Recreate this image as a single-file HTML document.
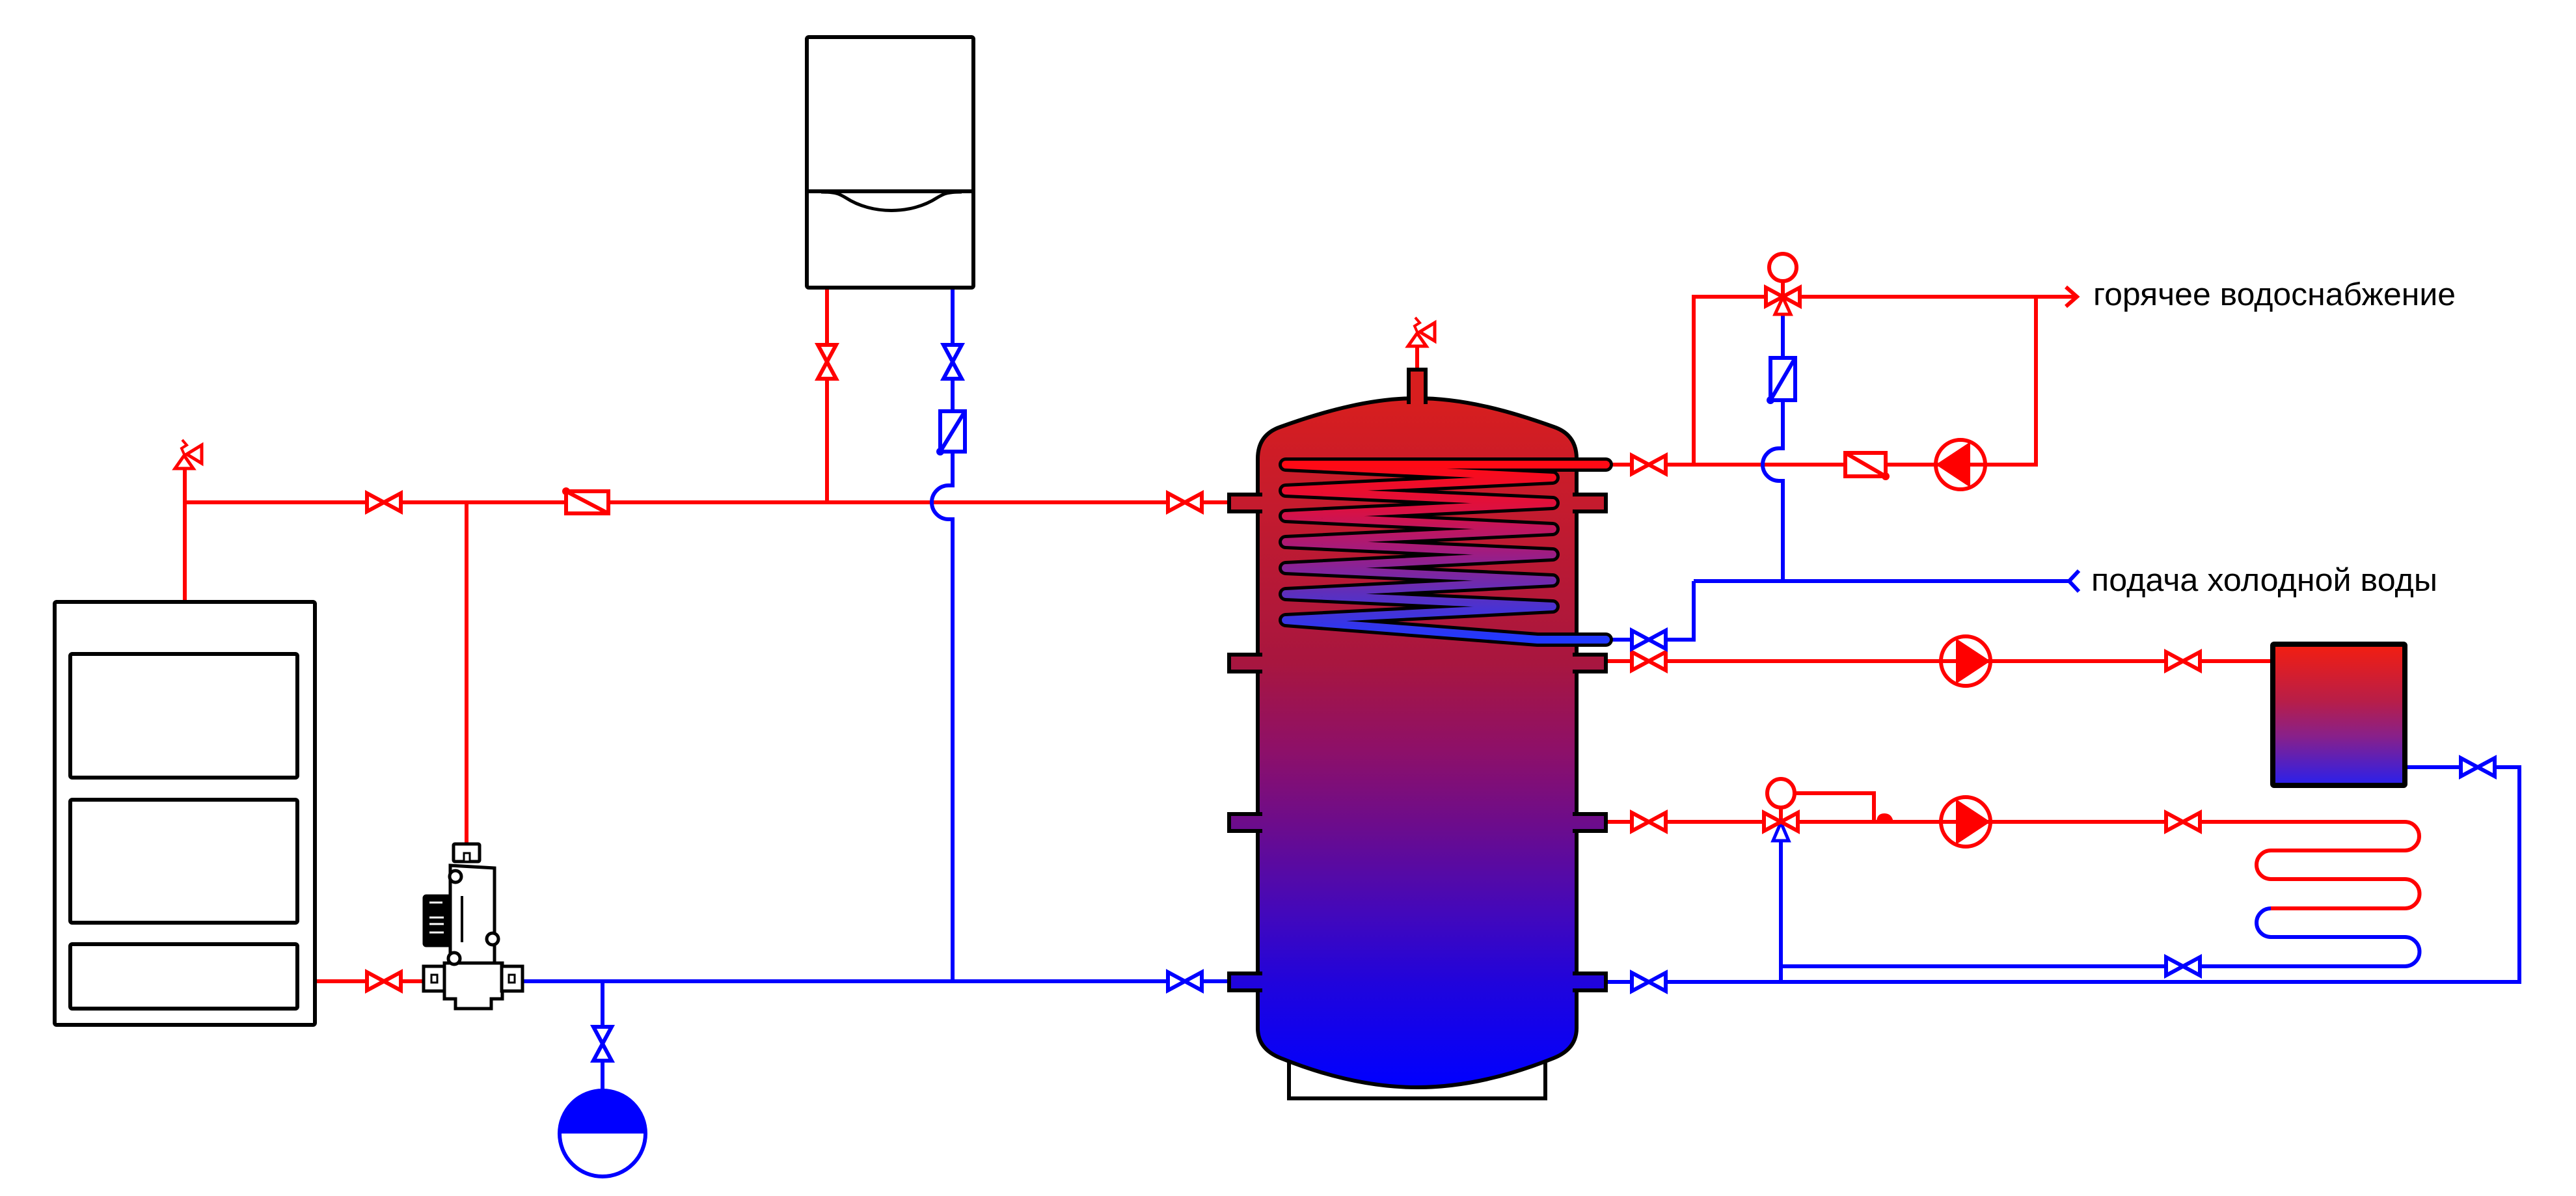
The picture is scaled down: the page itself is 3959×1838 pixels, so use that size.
<!DOCTYPE html>
<html><head><meta charset="utf-8"><style>
html,body{margin:0;padding:0;background:#fff;}
svg{display:block;}
</style></head><body>
<svg xmlns="http://www.w3.org/2000/svg" width="3959" height="1838" viewBox="0 0 3959 1838">
<defs>
<linearGradient id="tg" gradientUnits="userSpaceOnUse" x1="0" y1="610" x2="0" y2="1671">
<stop offset="0" stop-color="#d81e1e"/>
<stop offset="0.16" stop-color="#c41b2e"/>
<stop offset="0.385" stop-color="#a8163f"/>
<stop offset="0.51" stop-color="#8e1068"/>
<stop offset="0.62" stop-color="#6c0c8c"/>
<stop offset="0.745" stop-color="#4408ba"/>
<stop offset="0.85" stop-color="#2004dc"/>
<stop offset="1" stop-color="#0000ff"/>
</linearGradient>
<linearGradient id="cg" gradientUnits="userSpaceOnUse" x1="0" y1="714" x2="0" y2="983">
<stop offset="0" stop-color="#ff0a14"/>
<stop offset="0.25" stop-color="#dc1040"/>
<stop offset="0.5" stop-color="#a01c80"/>
<stop offset="0.75" stop-color="#5a30c0"/>
<stop offset="1" stop-color="#2038ff"/>
</linearGradient>
<linearGradient id="rg" gradientUnits="userSpaceOnUse" x1="0" y1="990" x2="0" y2="1208">
<stop offset="0" stop-color="#f41e10"/>
<stop offset="0.4" stop-color="#b81e48"/>
<stop offset="0.65" stop-color="#88208a"/>
<stop offset="1" stop-color="#2820ee"/>
</linearGradient>
</defs>

<!-- LEFT BOILER -->
<g fill="none" stroke="#000" stroke-width="6">
<rect x="84" y="925" width="400" height="650" rx="3"/>
<rect x="108" y="1005" width="349" height="190" rx="3"/>
<rect x="108" y="1229" width="349" height="189" rx="3"/>
<rect x="108" y="1451" width="349" height="99" rx="3"/>
</g>

<!-- WALL BOILER -->
<g fill="none" stroke="#000" stroke-width="6">
<rect x="1240" y="57" width="256" height="385" rx="3"/>
<line x1="1240" y1="294" x2="1496" y2="294"/>
</g>
<path d="M1262 295 C1285 295 1290 298 1300 304 C1340 330 1400 330 1440 304 C1450 298 1455 295 1478 295" fill="none" stroke="#000" stroke-width="5"/>

<!-- RED PIPES -->
<g fill="none" stroke="#ff0000" stroke-width="6">
<path d="M284 922 V720"/>
<path d="M284 772 H1890"/>
<path d="M717 772 V1297"/>
<path d="M1271 445 V772"/>
<path d="M487 1508 H650"/>
<path d="M2178 565 V532"/>
<path d="M2470 714 H3129 V456"/>
<path d="M2603 714 V456 H3192"/>
<path d="M3175 441 L3192 456 L3175 471"/>
<path d="M2466 1016 H3489"/>
<path d="M2466 1263 H3696 A22 22 0 0 1 3696 1307 H3490 A22 22 0 0 0 3490 1351 H3696 A22.5 22.5 0 0 1 3696 1396 H3490"/>
<path d="M2740 432 V456"/>
<path d="M2737 1240 V1263"/>
<path d="M2758 1219 H2880 V1263"/>
</g>
<path d="M2884 1264 Q2884 1250 2896 1250 Q2908 1250 2910 1264 Z" fill="#ff0000"/>

<!-- BLUE PIPES -->
<g fill="none" stroke="#0000ff" stroke-width="6">
<path d="M804 1508 H1889"/>
<path d="M926 1508 V1676"/>
<path d="M1464 445 V746 H1458 A26 26 0 0 0 1458 798 H1464 V1508"/>
<path d="M2740 485 V689 H2734 A25 25 0 0 0 2734 739 H2740 V893"/>
<path d="M2603 893 H3180"/>
<path d="M3195 877 L3180 893 L3195 909"/>
<path d="M2603 893 V983 H2470"/>
<path d="M2737 1292 V1509"/>
<path d="M2466 1509 H3872 V1179 H3700"/>
<path d="M3490 1396 A22 22 0 0 0 3490 1440 H3696 A22.5 22.5 0 0 1 3696 1485 H2737"/>
</g>

<!-- EXPANSION VESSEL -->
<circle cx="926" cy="1742" r="66" fill="#fff" stroke="#0000ff" stroke-width="6"/>
<path d="M860 1742 A66 66 0 0 1 992 1742 Z" fill="#0000ff"/>

<!-- SEPARATOR -->
<g stroke="#000" stroke-width="5" fill="#fff">
<rect x="697" y="1297" width="40" height="27" rx="2"/>
<rect x="713" y="1311" width="9" height="13" stroke-width="3"/>
<path d="M692 1330 L760 1334 L760 1482 L692 1482 Z"/>
<rect x="652" y="1377" width="40" height="76" fill="#000" rx="3"/>
<path d="M683 1480 H772 V1535 H755 V1550 H700 V1535 H683 Z"/>
<rect x="651" y="1485" width="32" height="38"/>
<rect x="771" y="1485" width="32" height="38"/>
<rect x="663" y="1498" width="9" height="12" stroke-width="3"/>
<rect x="782" y="1498" width="9" height="12" stroke-width="3"/>
<circle cx="700" cy="1347" r="9"/>
<circle cx="757" cy="1443" r="9"/>
<circle cx="698" cy="1473" r="9"/>
</g>
<line x1="710" y1="1377" x2="710" y2="1448" stroke="#000" stroke-width="4"/>
<path d="M660 1387 H680 M660 1410 H682 M660 1420 H682 M660 1433 H682" stroke="#fff" stroke-width="3"/>

<!-- TANK -->
<rect x="1981" y="1600" width="394" height="88" fill="#fff" stroke="#000" stroke-width="6"/>
<path d="M1933 1580 L1933 705 Q1933 668 1968 656 C2040 630 2110 612 2178 612 C2246 612 2316 630 2388 656 Q2423 668 2423 705 L2423 1580 Q2423 1612 2388 1626 C2316 1655 2246 1671 2178 1671 C2110 1671 2040 1655 1968 1626 Q1933 1612 1933 1580 Z" fill="url(#tg)" stroke="#000" stroke-width="6"/>
<rect x="2165" y="568" width="26" height="50" fill="url(#tg)" stroke="#000" stroke-width="6"/>
<rect x="2168" y="606" width="20" height="16" fill="url(#tg)"/>
<g fill="url(#tg)" stroke="#000" stroke-width="6">
<rect x="1889" y="760" width="48" height="26"/>
<rect x="1889" y="1006" width="48" height="26"/>
<rect x="1889" y="1251" width="48" height="26"/>
<rect x="1889" y="1496" width="48" height="26"/>
<rect x="2420" y="760" width="48" height="26"/>
<rect x="2420" y="1006" width="48" height="26"/>
<rect x="2420" y="1251" width="48" height="26"/>
<rect x="2420" y="1496" width="48" height="26"/>
</g>
<g fill="url(#tg)">
<rect x="1928" y="763" width="12" height="20"/>
<rect x="1928" y="1009" width="12" height="20"/>
<rect x="1928" y="1254" width="12" height="20"/>
<rect x="1928" y="1499" width="12" height="20"/>
<rect x="2416" y="763" width="12" height="20"/>
<rect x="2416" y="1009" width="12" height="20"/>
<rect x="2416" y="1254" width="12" height="20"/>
<rect x="2416" y="1499" width="12" height="20"/>
</g>

<!-- COIL -->
<polyline points="2468,714 1976,714 2386,734 1976,754 2386,773 1976,793 2386,813 1976,833 2386,852 1976,873 2386,892 1976,913 2386,932 1976,953 2363,983 2468,983" fill="none" stroke="#000" stroke-width="22" stroke-linejoin="round" stroke-linecap="round"/>
<polyline points="2468,714 1976,714 2386,734 1976,754 2386,773 1976,793 2386,813 1976,833 2386,852 1976,873 2386,892 1976,913 2386,932 1976,953 2363,983 2468,983" fill="none" stroke="url(#cg)" stroke-width="12" stroke-linejoin="round" stroke-linecap="round"/>

<!-- RADIATOR -->
<rect x="3493" y="990" width="203" height="217" fill="url(#rg)" stroke="#000" stroke-width="8" rx="2"/>

<!-- SAFETY VALVES -->
<g fill="#fff" stroke="#ff0000" stroke-width="5" stroke-linejoin="miter">
<path d="M269 720 L297 720 L283 700 Z"/>
<path d="M287 698 L310 684 L310 712 Z"/>
<path d="M2164 532 L2192 532 L2178 512 Z"/>
<path d="M2182 510 L2205 496 L2205 524 Z"/>
</g>
<g fill="none" stroke="#ff0000" stroke-width="4">
<path d="M283 698 L279 689 L287 684 L280 676"/>
<path d="M2178 510 L2174 501 L2182 496 L2175 488"/>
</g>

<!-- CHECK VALVES -->
<g fill="#fff" stroke="#ff0000" stroke-width="6">
<rect x="870" y="755" width="65" height="34"/>
<line x1="870" y1="755" x2="935" y2="789"/>
<rect x="2836" y="696" width="62" height="36"/>
<line x1="2836" y1="696" x2="2898" y2="732"/>
</g>
<circle cx="870" cy="755" r="6" fill="#ff0000"/>
<circle cx="2898" cy="732" r="6" fill="#ff0000"/>
<g fill="#fff" stroke="#0000ff" stroke-width="6">
<rect x="1445" y="632" width="38" height="62"/>
<line x1="1445" y1="694" x2="1483" y2="632"/>
<rect x="2721" y="550" width="38" height="65"/>
<line x1="2721" y1="615" x2="2759" y2="550"/>
</g>
<circle cx="1445" cy="694" r="6" fill="#0000ff"/>
<circle cx="2721" cy="615" r="6" fill="#0000ff"/>

<!-- THREE-WAY VALVE PARTS -->
<circle cx="2740" cy="411" r="21" fill="#fff" stroke="#ff0000" stroke-width="6"/>
<path d="M2740 457 L2728 483 L2752 483 Z" fill="#fff" stroke="#ff0000" stroke-width="5"/>
<ellipse cx="2737" cy="1219" rx="21" ry="22" fill="#fff" stroke="#ff0000" stroke-width="6"/>
<path d="M2737 1264 L2725 1292 L2749 1292 Z" fill="#fff" stroke="#0000ff" stroke-width="5"/>

<!-- VALVES RED -->
<g fill="#fff" stroke="#ff0000" stroke-width="6" stroke-linejoin="miter">
<path d="M564 758 L616 786 V758 L564 786 Z"/>
<path d="M1795 758 L1847 786 V758 L1795 786 Z"/>
<path d="M564 1494 L616 1522 V1494 L564 1522 Z"/>
<path d="M2508 700 L2560 728 V700 L2508 728 Z"/>
<path d="M2508 1002 L2560 1030 V1002 L2508 1030 Z"/>
<path d="M2508 1249 L2560 1277 V1249 L2508 1277 Z"/>
<path d="M3329 1002 L3381 1030 V1002 L3329 1030 Z"/>
<path d="M3329 1249 L3381 1277 V1249 L3329 1277 Z"/>
<path d="M2714 442 L2766 470 V442 L2714 470 Z"/>
<path d="M2711 1249 L2763 1277 V1249 L2711 1277 Z"/>
<path d="M1257 530 L1285 582 H1257 L1285 530 Z"/>
</g>
<!-- VALVES BLUE -->
<g fill="#fff" stroke="#0000ff" stroke-width="6" stroke-linejoin="miter">
<path d="M1795 1494 L1847 1522 V1494 L1795 1522 Z"/>
<path d="M2508 969 L2560 997 V969 L2508 997 Z"/>
<path d="M2508 1495 L2560 1523 V1495 L2508 1523 Z"/>
<path d="M3329 1471 L3381 1499 V1471 L3329 1499 Z"/>
<path d="M3782 1165 L3834 1193 V1165 L3782 1193 Z"/>
<path d="M1450 530 L1478 582 H1450 L1478 530 Z"/>
<path d="M912 1578 L940 1630 H912 L940 1578 Z"/>
</g>

<!-- PUMPS -->
<g fill="none" stroke="#ff0000" stroke-width="6">
<circle cx="3013" cy="714" r="38"/>
<circle cx="3021" cy="1016" r="38"/>
<circle cx="3021" cy="1263" r="38"/>
</g>
<g fill="#ff0000">
<path d="M2975 714 L3028 679 L3028 749 Z"/>
<path d="M3059 1016 L3006 981 L3006 1051 Z"/>
<path d="M3059 1263 L3006 1228 L3006 1298 Z"/>
</g>

<!-- TEXT -->
<g font-family="'Liberation Sans', Arial, sans-serif" font-size="49" fill="#000">
<text x="3217" y="469" textLength="557" lengthAdjust="spacingAndGlyphs">горячее водоснабжение</text>
<text x="3214" y="908" textLength="532" lengthAdjust="spacingAndGlyphs">подача холодной воды</text>
</g>
</svg>
</body></html>
